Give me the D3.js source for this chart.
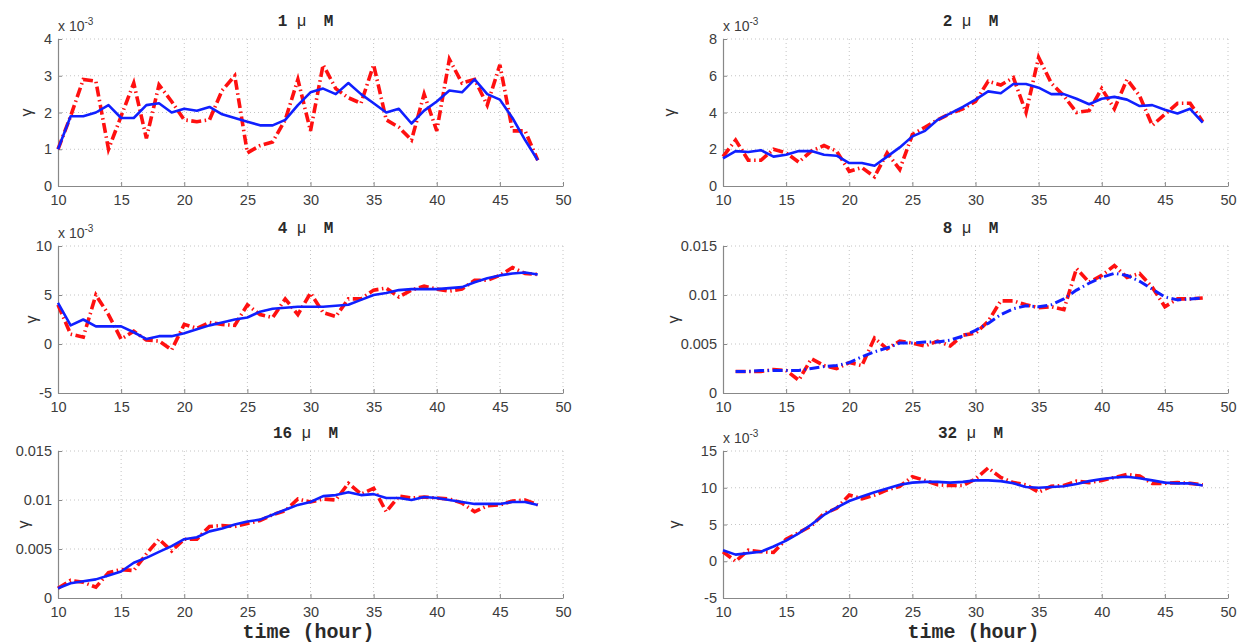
<!DOCTYPE html>
<html>
<head>
<meta charset="utf-8">
<script src="https://cdn.jsdelivr.net/npm/d3@7"></script>
<style>
  html, body { margin: 0; padding: 0; background: #fff; }
  svg { display: block; }
</style>
</head>
<body>
<div id="chart"></div>
<script>
// ── Data (values in units of 1e-3) ────────────────────────────────────────────
const hours = [10, 11, 12, 13, 14, 15, 16, 17, 18, 19, 20, 21, 22, 23, 24, 25, 26, 27, 28, 29,
  30, 31, 32, 33, 34, 35, 36, 37, 38, 39, 40, 41, 42, 43, 44, 45, 46, 47, 48];
const hours8 = [11, 12, 13, 14, 15, 16, 17, 18, 19, 20, 21, 22, 23, 24, 25, 26, 27, 28, 29,
  30, 31, 32, 33, 34, 35, 36, 37, 38, 39, 40, 41, 42, 43, 44, 45, 46, 47, 48];

const raw1 = [1.0, 1.9, 2.9, 2.85, 1.0, 1.9, 2.8, 1.3, 2.75, 2.3, 1.8, 1.75, 1.8, 2.6, 3.0, 0.9, 1.1, 1.2, 1.8, 2.9,
  1.5, 3.3, 2.65, 2.4, 2.25, 3.3, 1.8, 1.6, 1.25, 2.5, 1.5, 3.45, 2.8, 2.9, 2.2, 3.3, 1.5, 1.5, 0.7];
const fit1 = [1.0, 1.9, 1.9, 2.0, 2.2, 1.85, 1.85, 2.2, 2.25, 2.0, 2.1, 2.05, 2.15, 1.95, 1.85, 1.75, 1.65, 1.65, 1.8, 2.2,
  2.55, 2.65, 2.5, 2.8, 2.5, 2.25, 2.0, 2.1, 1.7, 2.05, 2.3, 2.6, 2.55, 2.9, 2.5, 2.35, 1.85, 1.25, 0.7];

const raw2 = [1.6, 2.5, 1.4, 1.4, 2.0, 1.8, 1.3, 1.9, 2.2, 1.9, 0.8, 1.0, 0.5, 1.8, 0.9, 2.8, 3.2, 3.6, 3.95, 4.2,
  4.6, 5.7, 5.5, 5.9, 4.0, 7.0, 5.6, 4.9, 4.0, 4.1, 5.3, 4.2, 5.8, 4.9, 3.3, 3.9, 4.5, 4.5, 3.5];
const fit2 = [1.5, 1.9, 1.85, 1.95, 1.6, 1.7, 1.9, 1.9, 1.7, 1.65, 1.25, 1.25, 1.1, 1.6, 2.1, 2.7, 3.0, 3.6, 3.95, 4.3,
  4.7, 5.15, 5.05, 5.55, 5.55, 5.35, 5.0, 5.0, 4.75, 4.45, 4.75, 4.85, 4.7, 4.35, 4.4, 4.15, 3.95, 4.2, 3.45];

const raw4 = [4.0, 1.0, 0.7, 5.0, 3.0, 0.5, 1.3, 0.4, 0.3, -0.6, 2.0, 1.6, 2.2, 2.0, 1.9, 4.0, 3.0, 2.7, 4.6, 3.0,
  5.2, 3.2, 2.8, 4.6, 4.6, 5.5, 5.7, 4.8, 5.5, 5.9, 5.6, 5.4, 5.6, 6.5, 6.5, 7.0, 7.8, 7.2, 7.1];
const fit4 = [4.2, 1.9, 2.5, 1.8, 1.8, 1.8, 1.2, 0.5, 0.8, 0.8, 1.1, 1.5, 1.9, 2.2, 2.5, 2.7, 3.3, 3.6, 3.7, 3.8,
  3.8, 3.8, 3.9, 4.0, 4.5, 5.0, 5.2, 5.5, 5.6, 5.6, 5.6, 5.7, 5.8, 6.3, 6.7, 7.0, 7.2, 7.3, 7.1];

const raw8 = [2.2, 2.2, 2.2, 2.4, 2.3, 1.3, 3.5, 2.8, 2.5, 3.1, 2.8, 5.6, 4.5, 5.3, 5.1, 4.8, 5.3, 4.8, 5.9,
  6.1, 7.3, 9.4, 9.4, 9.0, 8.7, 8.8, 8.5, 12.7, 11.3, 12.0, 13.0, 11.8, 12.2, 10.8, 8.8, 9.6, 9.6, 9.7];
const fit8 = [2.2, 2.2, 2.3, 2.3, 2.3, 2.3, 2.5, 2.7, 2.8, 3.1, 3.7, 4.2, 4.6, 5.1, 5.1, 5.2, 5.2, 5.4, 5.8,
  6.4, 7.1, 8.0, 8.6, 8.9, 8.8, 9.0, 9.6, 10.5, 11.2, 11.8, 12.2, 12.0, 11.4, 10.6, 9.8, 9.5, 9.6, 9.7];

const raw16 = [1.0, 1.8, 1.6, 1.1, 2.6, 2.9, 2.8, 4.5, 6.0, 4.8, 6.0, 6.0, 7.3, 7.4, 7.3, 7.6, 7.9, 8.5, 8.9, 10.1,
  9.8, 10.1, 10.0, 11.7, 10.6, 11.2, 8.8, 10.4, 10.2, 10.3, 10.2, 10.1, 9.7, 8.8, 9.4, 9.5, 9.9, 10.0, 9.5];
const fit16 = [1.0, 1.5, 1.7, 1.9, 2.3, 2.7, 3.6, 4.1, 4.7, 5.3, 6.0, 6.2, 6.8, 7.1, 7.5, 7.8, 8.0, 8.5, 9.0, 9.5,
  9.8, 10.4, 10.5, 10.8, 10.5, 10.6, 10.2, 10.2, 10.0, 10.3, 10.2, 10.0, 9.8, 9.6, 9.6, 9.6, 9.8, 9.8, 9.5];

const raw32 = [1.3, 0.0, 1.5, 1.3, 1.2, 3.0, 3.9, 4.8, 6.5, 7.2, 9.0, 8.5, 9.0, 9.7, 10.2, 11.5, 11.0, 10.4, 10.3, 10.3,
  11.2, 12.7, 11.4, 10.7, 10.4, 9.4, 10.2, 10.3, 10.9, 10.7, 11.0, 11.4, 11.8, 11.6, 10.6, 10.6, 10.7, 10.6, 10.4];
const fit32 = [1.5, 0.9, 1.1, 1.3, 2.0, 2.8, 3.8, 5.0, 6.3, 7.3, 8.2, 8.8, 9.4, 9.9, 10.4, 10.7, 10.8, 10.8, 10.7, 10.8,
  11.0, 11.0, 10.9, 10.6, 10.1, 10.0, 10.1, 10.2, 10.5, 10.9, 11.2, 11.4, 11.5, 11.3, 11.0, 10.7, 10.6, 10.6, 10.3];

const xTicks = [10, 15, 20, 25, 30, 35, 40, 45, 50];

// ── Panels ────────────────────────────────────────────────────────────────────
const panels = [
  { conc: '1', t: hours, raw: raw1, fit: fit1, y: [0, 4], yTicks: [0, 1, 2, 3, 4], exp: true,
    box: [58, 39], ylab: 26 },
  { conc: '2', t: hours, raw: raw2, fit: fit2, y: [0, 8], yTicks: [0, 2, 4, 6, 8], exp: true,
    box: [723, 39], ylab: 669 },
  { conc: '4', t: hours, raw: raw4, fit: fit4, y: [-5, 10], yTicks: [-5, 0, 5, 10], exp: true,
    box: [58, 246], ylab: 31 },
  { conc: '8', t: hours8, raw: raw8, fit: fit8, y: [0, 15], yTicks: [0, 5, 10, 15], exp: false,
    box: [723, 246], ylab: 673, fitDash: true },
  { conc: '16', t: hours, raw: raw16, fit: fit16, y: [0, 15], yTicks: [0, 5, 10, 15], exp: false,
    box: [58, 451], ylab: 23, xlabel: true },
  { conc: '32', t: hours, raw: raw32, fit: fit32, y: [-5, 15], yTicks: [-5, 0, 5, 10, 15], exp: true,
    box: [723, 451], ylab: 674, xlabel: true },
];

const W = 1243, H = 643;
const PW = 505, PH = 147;
const tickFont = '"Liberation Sans", Arial, sans-serif';
const monoFont = '"Liberation Mono", "Courier New", monospace';
const dashDot = '10,3.5,1.5,3.5';

const svg = d3.select('#chart').append('svg')
  .attr('width', W)
  .attr('height', H);

function fmtTick(p, v) {
  if (p.exp) return String(v);
  return v === 0 ? '0' : String(+(v / 1000).toFixed(3));
}

panels.forEach(p => {
  const [left, top] = p.box;
  const x = d3.scaleLinear().domain([10, 50]).range([0, PW]);
  const y = d3.scaleLinear().domain(p.y).range([PH, 0]);
  const g = svg.append('g').attr('transform', `translate(${left},${top})`);

  // grid
  g.append('g')
    .selectAll('line')
    .data(xTicks.slice(1))
    .join('line')
    .attr('x1', d => x(d)).attr('x2', d => x(d))
    .attr('y1', 0).attr('y2', PH)
    .attr('stroke', '#c4c4c4').attr('stroke-width', 1)
    .attr('stroke-dasharray', '1,3');
  g.append('g')
    .selectAll('line')
    .data(p.yTicks.slice(1))
    .join('line')
    .attr('x1', 0).attr('x2', PW)
    .attr('y1', d => y(d)).attr('y2', d => y(d))
    .attr('stroke', '#c4c4c4').attr('stroke-width', 1)
    .attr('stroke-dasharray', '1,3');

  // axes
  const xAxis = g.append('g')
    .attr('transform', `translate(0,${PH})`)
    .call(d3.axisBottom(x).tickValues(xTicks).tickSizeInner(-4).tickSizeOuter(0).tickPadding(7));
  const yAxis = g.append('g')
    .call(d3.axisLeft(y).tickValues(p.yTicks).tickSizeInner(-4).tickSizeOuter(0).tickPadding(6)
      .tickFormat(v => fmtTick(p, v)));
  [xAxis, yAxis].forEach(a => {
    a.select('.domain').attr('stroke', '#888').attr('stroke-width', 1.2);
    a.selectAll('.tick line').attr('stroke', '#888');
    a.selectAll('.tick text')
      .attr('fill', '#3c3c3c')
      .style('font-family', tickFont)
      .style('font-size', '14.5px');
  });
  xAxis.selectAll('.tick text').attr('dy', '0.8em');

  // series
  const line = d3.line()
    .x((d, i) => x(p.t[i]))
    .y(d => y(d));

  g.append('path')
    .datum(p.raw)
    .attr('d', line)
    .attr('fill', 'none')
    .attr('stroke', '#ff1010')
    .attr('stroke-width', 3.6)
    .attr('stroke-dasharray', dashDot);

  g.append('path')
    .datum(p.fit)
    .attr('d', line)
    .attr('fill', 'none')
    .attr('stroke', '#1020ff')
    .attr('stroke-width', p.fitDash ? 3 : 2.6)
    .attr('stroke-linejoin', 'round')
    .attr('stroke-dasharray', p.fitDash ? dashDot : null);

  // title  (e.g. "1 μ M")
  const t = g.append('text')
    .attr('x', PW / 2 - 5)
    .attr('y', -13)
    .attr('text-anchor', 'middle')
    .style('font-family', monoFont)
    .style('font-weight', 'bold')
    .style('font-size', '16px')
    .attr('fill', '#2a2a2a');
  t.append('tspan').text(p.conc + ' ');
  t.append('tspan').style('font-family', tickFont).style('font-weight', 'normal').text('μ');
  t.append('tspan').attr('dx', 8).text(' M');

  // exponent label
  if (p.exp) {
    const e = g.append('text')
      .attr('x', 0)
      .attr('y', -8)
      .style('font-family', tickFont)
      .style('font-size', '14px')
      .attr('fill', '#3c3c3c');
    e.append('tspan').text('x 10');
    e.append('tspan').attr('dy', -6).style('font-size', '10px').text('-3');
  }

  // y label
  svg.append('text')
    .attr('transform', `translate(${p.ylab},${top + PH / 2}) rotate(-90)`)
    .attr('text-anchor', 'middle')
    .attr('dy', '0.35em')
    .style('font-family', tickFont)
    .style('font-size', '16px')
    .attr('fill', '#333')
    .text('γ');

  // x label
  if (p.xlabel) {
    g.append('text')
      .attr('x', PW / 2 - 2)
      .attr('y', PH + 40)
      .attr('text-anchor', 'middle')
      .style('font-family', monoFont)
      .style('font-weight', 'bold')
      .style('font-size', '20px')
      .attr('fill', '#2a2a2a')
      .text('time (hour)');
  }
});
</script>
</body>
</html>
